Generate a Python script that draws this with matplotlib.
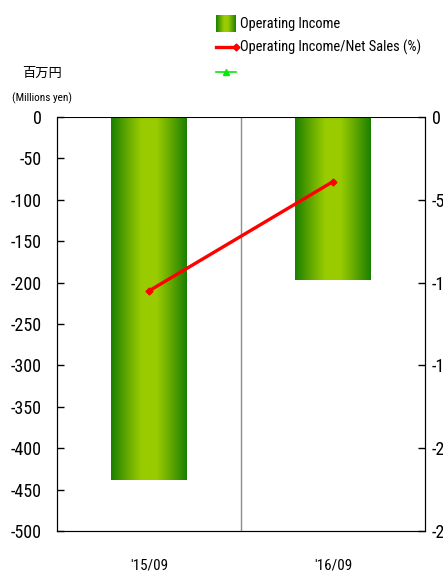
import matplotlib
matplotlib.use("Agg")
import matplotlib.pyplot as plt
import numpy as np
from matplotlib import font_manager
from matplotlib.lines import Line2D
from matplotlib.colors import LinearSegmentedColormap

names = {f.name for f in font_manager.fontManager.ttflist}
cands = ["Roboto Condensed", "Liberation Sans Narrow", "DejaVu Sans Condensed",
         "Open Sans Condensed", "Noto Sans Condensed", "Roboto", "DejaVu Sans"]
base = next(c for c in cands if c in names)
plt.rcParams['font.family'] = [base, 'Noto Sans CJK JP', 'DejaVu Sans']

categories = ["'15/09", "'16/09"]
operating_income = [-438, -197]
income_ratio = [-10.5, -3.9]
left_ticks = [0, -50, -100, -150, -200, -250, -300, -350, -400, -450, -500]
right_ticks = [0, -5, -10, -15, -20, -25]

W, H = 443, 579
fig = plt.figure(figsize=(W/100, H/100), dpi=100)
renderer = fig.canvas.get_renderer()

def fit_size(s, target_px, start=12):
    t = fig.text(0, 0, s, fontsize=start)
    w = t.get_window_extent(renderer).width
    t.remove()
    return start * target_px / w

ax = fig.add_axes([57/W, 1-531/H, (425-57)/W, (531-117)/H])

cmap = LinearSegmentedColormap.from_list("g", ["#1a8000", "#5fa600", "#99cc00", "#99cc00", "#5fa600", "#1a8000"])
grad = np.linspace(0, 1, 256).reshape(1, -1)

x = np.arange(len(categories))
bw = 0.41
bars = ax.bar(x, operating_income, width=bw, color="none", edgecolor="none")
for b in bars:
    x0, y0 = b.get_x(), b.get_y()
    w, h = b.get_width(), b.get_height()
    im = ax.imshow(grad, cmap=cmap, aspect="auto", extent=[x0, x0+w, y0+h, y0], zorder=2)
    im.set_clip_path(b)
ax.set_xlim(-0.5, 1.5)
ax.set_ylim(-500, 0)

ax.axvline(0.5, color="#8c8c8c", lw=1.0, zorder=1)
ax.axhline(0, color="black", lw=1.5, zorder=4)

tick_fs = fit_size("-500", 31)
ax.set_yticks(left_ticks)
ax.set_yticklabels([str(t) for t in left_ticks], fontsize=tick_fs)
ax.tick_params(axis="y", direction="in", length=5, width=1, pad=11, color="black")
ax.set_xticks(x)
ax.set_xticklabels(categories, fontsize=fit_size("'15/09", 38))
ax.tick_params(axis="x", length=0, pad=20)
ax.spines["top"].set_visible(False)
ax.spines["left"].set_color("black")
ax.spines["right"].set_color("black")
ax.spines["bottom"].set_color("#555555")

ax2 = ax.twinx()
ax2.set_ylim(-25, 0)
ax2.plot(x, income_ratio, color="#ff0000", lw=2.4, marker="D", ms=3.5, zorder=5)
ax2.set_yticks(right_ticks)
ax2.set_yticklabels([str(t) for t in right_ticks], fontsize=tick_fs)
ax2.tick_params(axis="y", direction="in", length=5, width=1, pad=5)
ax2.spines["top"].set_visible(False)
ax2.spines["right"].set_color("black")

fig.text(42/W, 1-73/H, "百万円", fontsize=9.5, ha="center", va="center",
         family=['Noto Sans CJK JP', 'DejaVu Sans'])
fig.text(42/W, 1-98/H, "(Millions yen)", fontsize=fit_size("(Millions yen)", 60),
         ha="center", va="center")

# legend
lx0, lx1 = 216/W, 236/W
lax = fig.add_axes([lx0, 1-32/H, lx1-lx0, 17/H])
lax.imshow(grad, cmap=cmap, aspect="auto", extent=[0, 1, 0, 1])
lax.set_axis_off()
fig.add_artist(Line2D([lx0, lx1], [1-47/H, 1-47/H], color="#ff0000", lw=2.4,
                      marker="D", ms=3.5, markevery=[1], transform=fig.transFigure))
fig.add_artist(Line2D([lx0, (lx0+lx1)/2, lx1], [1-72/H]*3, color="#00ee00", lw=1.2,
                      marker="^", ms=5, markevery=[1], transform=fig.transFigure))
leg_fs = fit_size("Operating Income/Net Sales (%)", 182)
fig.text(240/W, 1-24/H, "Operating Income", fontsize=leg_fs, va="center")
fig.text(240/W, 1-47/H, "Operating Income/Net Sales (%)", fontsize=leg_fs, va="center")

fig.savefig("out.png", dpi=100)
